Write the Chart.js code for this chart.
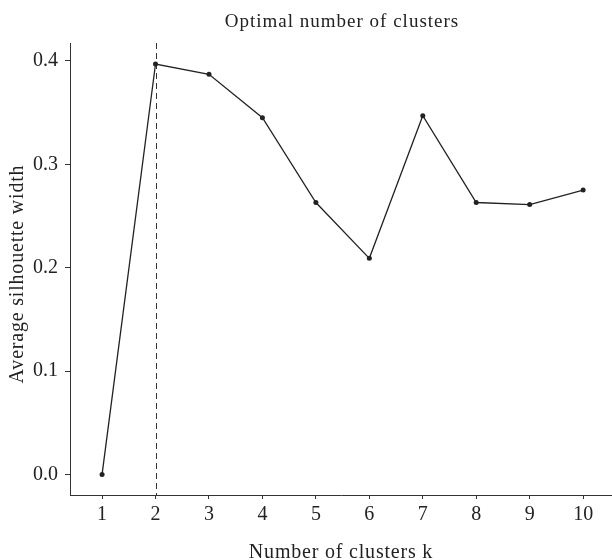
<!DOCTYPE html>
<html>
<head>
<meta charset="utf-8">
<script src="https://cdn.jsdelivr.net/npm/chart.js@4/dist/chart.umd.min.js"></script>
<style>
  html, body { margin: 0; padding: 0; background: #fff; }
  #wrap { width: 612px; height: 560px; }
</style>
</head>
<body>
<div id="wrap"><canvas id="c" width="612" height="560"></canvas></div>
<script>
// Silhouette analysis for k-means: average width per number of clusters
const clusterCounts = [1, 2, 3, 4, 5, 6, 7, 8, 9, 10];
const avgSilhouette = [0.000, 0.397, 0.387, 0.345, 0.263, 0.209, 0.347, 0.263, 0.261, 0.275];
const optimalK = 2;
const yTickValues = [0.0, 0.1, 0.2, 0.3, 0.4];
const xTickValues = clusterCounts;

const chartTitle = 'Optimal number of clusters';
const xTitle = 'Number of clusters k';
const yTitle = 'Average silhouette width';

const FONT = "'Liberation Serif', 'Times New Roman', serif";
const INK = '#222';
const AXIS = '#333';

// Vertical dashed marker at the chosen k
const optimalLine = {
  id: 'optimalLine',
  beforeDatasetsDraw(chart) {
    const { ctx, chartArea, scales } = chart;
    const x = Math.round(scales.x.getPixelForValue(optimalK)) + 0.5;
    ctx.save();
    ctx.strokeStyle = AXIS;
    ctx.lineWidth = 1;
    ctx.setLineDash([6, 4]);
    ctx.beginPath();
    ctx.moveTo(x, chartArea.top);
    ctx.lineTo(x, chartArea.bottom);
    ctx.stroke();
    ctx.restore();
  }
};

// Titles centred on the panel, drawn with a little tracking
const panelTitles = {
  id: 'panelTitles',
  afterDraw(chart) {
    const { ctx, chartArea } = chart;
    const cx = (chartArea.left + chartArea.right) / 2;
    const cy = (chartArea.top + chartArea.bottom) / 2;
    ctx.save();
    ctx.fillStyle = INK;
    ctx.textAlign = 'center';
    ctx.textBaseline = 'alphabetic';

    ctx.font = `19px ${FONT}`;
    ctx.letterSpacing = '1px';
    ctx.fillText(chartTitle, cx + 1, 27);

    ctx.font = `20px ${FONT}`;
    ctx.letterSpacing = '0.8px';
    ctx.fillText(xTitle, cx, 558);

    ctx.translate(23, cy + 5);
    ctx.rotate(-Math.PI / 2);
    ctx.fillText(yTitle, 0, 0);
    ctx.restore();
  }
};

new Chart(document.getElementById('c'), {
  type: 'line',
  data: {
    datasets: [{
      data: clusterCounts.map((k, i) => ({ x: k, y: avgSilhouette[i] })),
      borderColor: INK,
      backgroundColor: INK,
      borderWidth: 1.3,
      pointRadius: 2.5,
      pointHoverRadius: 2.5,
      pointBorderWidth: 0,
      tension: 0,
      fill: false
    }]
  },
  options: {
    responsive: false,
    animation: false,
    layout: { autoPadding: false, padding: { left: 0, right: 0, top: 43, bottom: 0 } },
    plugins: {
      legend: { display: false },
      tooltip: { enabled: false },
      title: { display: false }
    },
    scales: {
      x: {
        type: 'linear',
        min: 0.4,
        max: 10.54,
        afterBuildTicks: s => { s.ticks = xTickValues.map(v => ({ value: v })); },
        afterFit: s => { s.height = 65; },
        grid: { display: true, drawOnChartArea: false, drawTicks: true, tickLength: 4, color: AXIS },
        border: { display: true, color: AXIS, width: 1 },
        ticks: {
          color: INK,
          font: { family: FONT, size: 20 },
          padding: 3.5,
          maxRotation: 0,
          autoSkip: false,
          callback: v => String(v)
        }
      },
      y: {
        type: 'linear',
        min: -0.0199,
        max: 0.4173,
        afterBuildTicks: s => { s.ticks = yTickValues.map(v => ({ value: v })); },
        afterFit: s => { s.width = 70; },
        grid: { display: true, drawOnChartArea: false, drawTicks: true, tickLength: 5, color: AXIS },
        border: { display: true, color: AXIS, width: 1 },
        ticks: {
          color: INK,
          font: { family: FONT, size: 20 },
          padding: 7,
          autoSkip: false,
          callback: v => v.toFixed(1)
        }
      }
    }
  },
  plugins: [optimalLine, panelTitles]
});
</script>
</body>
</html>
